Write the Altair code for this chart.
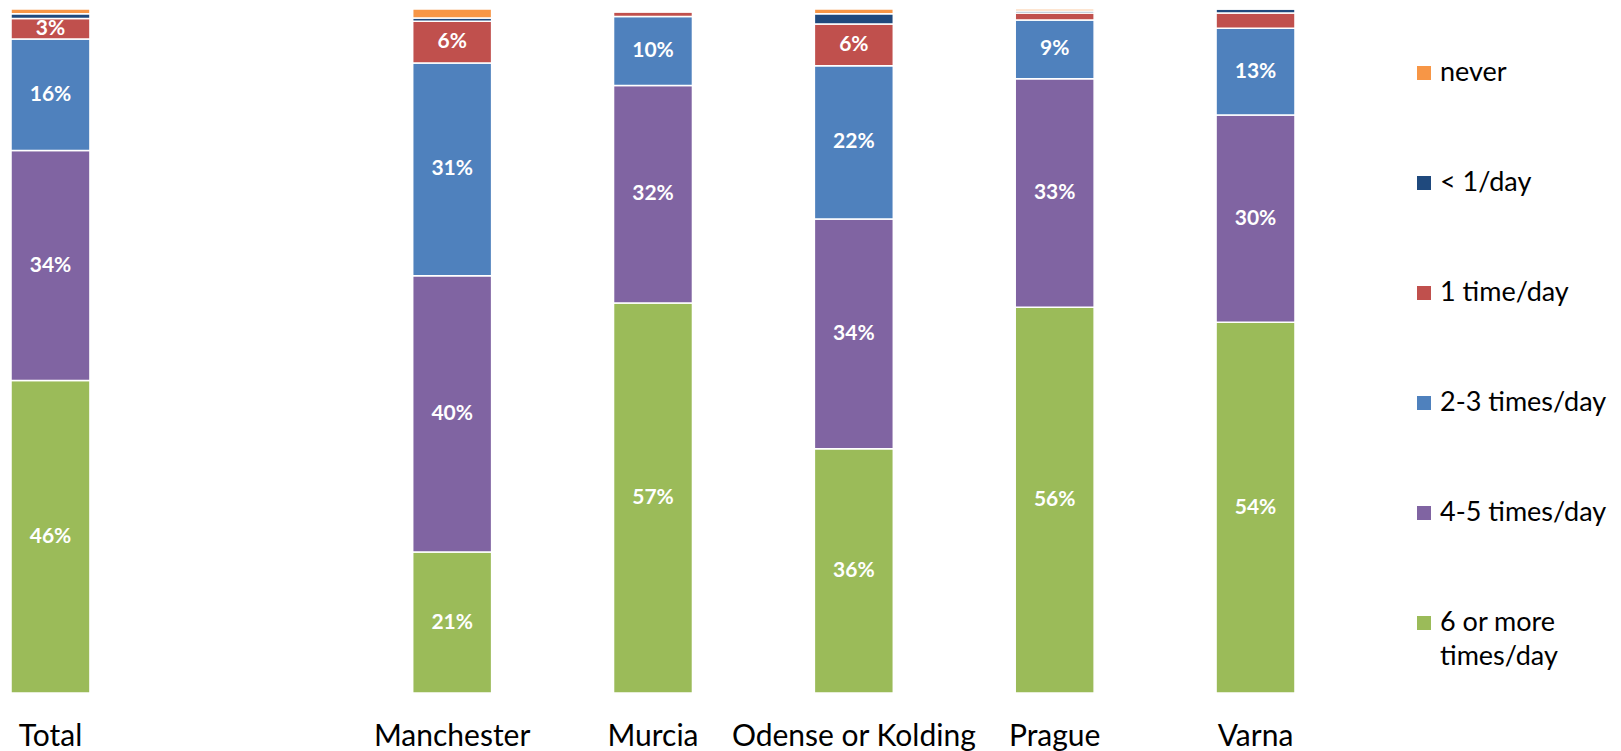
import altair as alt
import pandas as pd

# ---- data ----
cities = ["Total", "Manchester", "Murcia", "Odense or Kolding", "Prague", "Varna"]
x_slots = ["Total", "_gap_", "Manchester", "Murcia", "Odense or Kolding", "Prague", "Varna"]

freqs = ["6 or more times/day", "4-5 times/day", "2-3 times/day", "1 time/day", "< 1/day", "never"]
colors = ["#9BBB59", "#8064A2", "#4F81BD", "#C0504D", "#1F497D", "#F79646"]

six_plus = [45.7, 20.6, 57.0, 35.7, 56.4, 54.2]
four_five = [33.6, 40.4, 31.8, 33.6, 33.4, 30.3]
two_three = [16.3, 31.1, 10.1, 22.4, 8.6, 12.7]
one_time = [3.0, 6.1, 0.7, 6.1, 1.0, 2.2]
less_one = [0.7, 0.5, 0.0, 1.5, 0.3, 0.6]
never = [0.7, 1.3, 0.0, 0.7, 0.3, 0.0]
series = [six_plus, four_five, two_three, one_time, less_one, never]

legend_order = ["never", "< 1/day", "1 time/day", "2-3 times/day", "4-5 times/day", "6 or more times/day"]
legend_line1 = ["never", "< 1/day", "1 time/day", "2-3 times/day", "4-5 times/day", "6 or more"]
legend_line2 = ["", "", "", "", "", "times/day"]

# ---- tables ----
rows = []
for i, c in enumerate(cities):
    for j, f in enumerate(freqs):
        rows.append({"city": c, "freq": f, "ord": j, "value": series[j][i]})
df = pd.DataFrame(rows)

leg_df = pd.DataFrame({"freq": legend_order, "line1": legend_line1, "line2": legend_line2})

color_scale = alt.Scale(domain=freqs, range=colors)

base = alt.Chart(df).transform_stack(
    stack="value", groupby=["city"], sort=[alt.SortField("ord", order="ascending")], as_=["y0", "y1"]
).transform_calculate(
    mid="(datum.y0 + datum.y1) / 2",
    lbl="round(datum.value) + '%'",
)

x_enc = alt.X(
    "city:N",
    scale=alt.Scale(domain=x_slots, paddingInner=0.607, paddingOuter=0.015),
    axis=alt.Axis(
        title=None,
        labelExpr="datum.value == '_gap_' ? '' : datum.value",
        labelAngle=0,
        ticks=False,
        tickSize=0,
        domain=False,
        grid=False,
        labelFont="Lato",
        labelFontSize=30,
        labelColor="#000000",
        labelPadding=28,
        labelLimit=500,
    ),
)
y_scale = alt.Scale(domain=[0, 100], nice=False, zero=True)

bars = base.mark_bar(stroke="white", strokeWidth=1.5).encode(
    x=x_enc,
    y=alt.Y("y0:Q", scale=y_scale, axis=None),
    y2="y1:Q",
    color=alt.Color("freq:N", scale=color_scale, legend=None),
)

labels = base.transform_filter("datum.value >= 2.5").mark_text(
    color="white", font="Lato", fontWeight="bold", fontSize=21, baseline="middle", align="center"
).encode(
    x=x_enc,
    y=alt.Y("mid:Q", scale=y_scale, axis=None),
    text="lbl:N",
)

main = alt.layer(bars, labels).properties(width=1290, height=684)

y_leg = alt.Y(
    "freq:N",
    scale=alt.Scale(type="point", domain=legend_order, range=[64, 614], padding=0),
    axis=None,
)
leg_base = alt.Chart(leg_df)
squares = leg_base.mark_square(size=196, opacity=1).encode(
    x=alt.value(126),
    y=y_leg,
    color=alt.Color("freq:N", scale=color_scale, legend=None),
)
text1 = leg_base.mark_text(align="left", baseline="middle", font="Lato", fontSize=27, color="#000000").encode(
    x=alt.value(142), y=y_leg, text="line1:N"
)
text2 = leg_base.mark_text(align="left", baseline="middle", font="Lato", fontSize=27, color="#000000", dy=34).encode(
    x=alt.value(142), y=y_leg, text="line2:N"
)
legend = alt.layer(squares, text1, text2).properties(width=300, height=684)

chart = alt.hconcat(main, legend, spacing=0).properties(padding=0).configure_view(stroke=None).resolve_scale(
    color="shared"
)

chart.save("out.html", embed_options={"renderer": "svg", "actions": False})
